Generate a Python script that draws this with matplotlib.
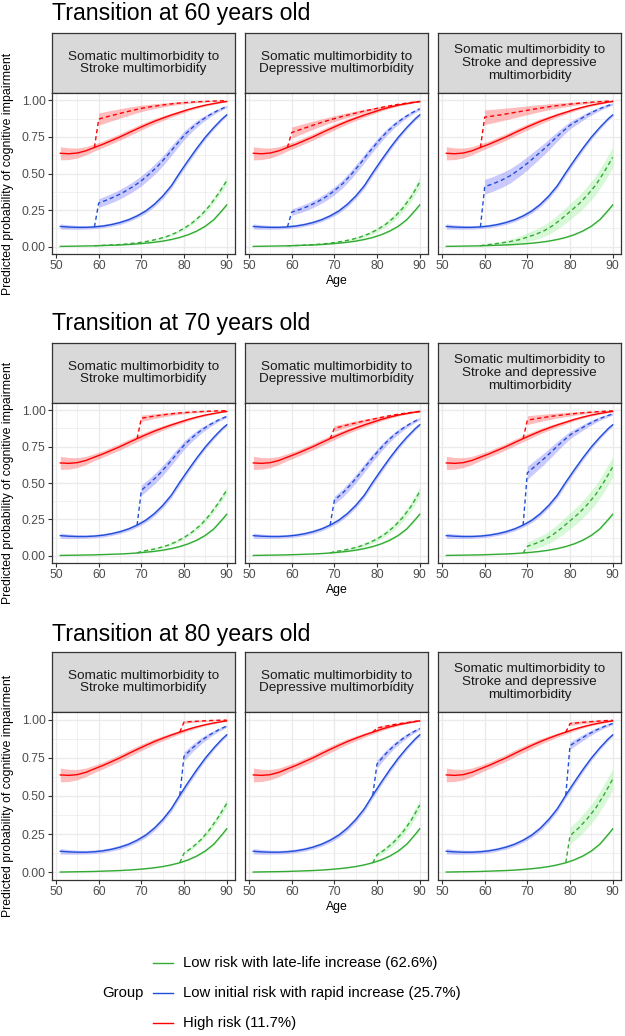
import matplotlib
matplotlib.use("Agg")
import matplotlib.pyplot as plt
from matplotlib.lines import Line2D

plt.rcParams['font.family'] = ['Liberation Sans', 'DejaVu Sans']

# ---- data ------------------------------------------------------------
transition_ages = [60, 70, 80]
facet_labels = ["Somatic multimorbidity to\nStroke multimorbidity",
                "Somatic multimorbidity to\nDepressive multimorbidity",
                "Somatic multimorbidity to\nStroke and depressive\nmultimorbidity"]
group_labels = ["Low risk with late-life increase (62.6%)",
                "Low initial risk with rapid increase (25.7%)",
                "High risk (11.7%)"]

# somatic multimorbidity (solid lines)
ages = [51, 53, 55, 57, 59, 61, 63, 65, 67, 69, 71, 73, 75, 77, 79, 81, 83, 85, 87, 89, 90]
base_red = [0.638, 0.635, 0.640, 0.655, 0.678, 0.700, 0.725, 0.750, 0.778, 0.805, 0.831,
            0.856, 0.878, 0.899, 0.918, 0.937, 0.953, 0.967, 0.978, 0.988, 0.992]
base_red_hw = [0.045, 0.040, 0.034, 0.028, 0.024, 0.022, 0.022, 0.022, 0.022, 0.021, 0.020,
               0.018, 0.016, 0.014, 0.012, 0.010, 0.008, 0.006, 0.005, 0.003, 0.003]
base_blue = [0.138, 0.134, 0.132, 0.132, 0.135, 0.141, 0.151, 0.165, 0.184, 0.210, 0.243,
             0.288, 0.345, 0.415, 0.505, 0.590, 0.672, 0.748, 0.815, 0.875, 0.900]
base_blue_hw = [0.018, 0.015, 0.013, 0.012, 0.012, 0.012, 0.012, 0.013, 0.013, 0.014, 0.015,
                0.016, 0.017, 0.018, 0.018, 0.018, 0.017, 0.015, 0.013, 0.011, 0.010]
base_green = [0.002, 0.003, 0.004, 0.005, 0.006, 0.008, 0.010, 0.012, 0.015, 0.019, 0.024,
              0.030, 0.038, 0.049, 0.063, 0.082, 0.107, 0.140, 0.185, 0.250, 0.285]
base_green_hw = [0.001, 0.001, 0.001, 0.001, 0.001, 0.001, 0.002, 0.002, 0.002, 0.002, 0.003,
                 0.003, 0.003, 0.004, 0.004, 0.005, 0.006, 0.007, 0.008, 0.009, 0.010]

# after the transition (dashed lines)
post_ages = [60, 62, 64, 66, 68, 70, 72, 74, 76, 78, 80, 82, 84, 86, 88, 90]

stroke_red = [0.872, 0.888, 0.903, 0.918, 0.932, 0.945, 0.955, 0.964, 0.972, 0.979, 0.984,
              0.988, 0.991, 0.994, 0.996, 0.997]
stroke_red_hw = [0.042, 0.038, 0.034, 0.030, 0.026, 0.022, 0.018, 0.015, 0.012, 0.010, 0.008,
                 0.006, 0.005, 0.004, 0.003, 0.002]
stroke_blue = [0.298, 0.320, 0.345, 0.375, 0.410, 0.450, 0.500, 0.555, 0.620, 0.690, 0.760,
               0.815, 0.862, 0.900, 0.932, 0.958]
stroke_blue_hw = [0.030, 0.031, 0.032, 0.033, 0.034, 0.035, 0.035, 0.035, 0.034, 0.032, 0.029,
                  0.025, 0.020, 0.015, 0.011, 0.008]
stroke_green = [0.008, 0.010, 0.013, 0.017, 0.023, 0.030, 0.040, 0.053, 0.070, 0.094, 0.125,
                0.165, 0.215, 0.280, 0.360, 0.450]
stroke_green_hw = [0.002, 0.002, 0.003, 0.003, 0.004, 0.005, 0.006, 0.007, 0.008, 0.009, 0.010,
                   0.012, 0.015, 0.018, 0.021, 0.025]

dep_red = [0.780, 0.800, 0.820, 0.840, 0.858, 0.875, 0.891, 0.906, 0.920, 0.933, 0.945,
           0.957, 0.968, 0.977, 0.985, 0.992]
dep_red_hw = [0.038, 0.034, 0.030, 0.026, 0.022, 0.020, 0.017, 0.015, 0.013, 0.011, 0.009,
              0.008, 0.006, 0.005, 0.004, 0.003]
dep_blue = [0.236, 0.255, 0.278, 0.306, 0.340, 0.382, 0.432, 0.495, 0.565, 0.640, 0.710,
            0.775, 0.830, 0.875, 0.912, 0.942]
dep_blue_hw = [0.022, 0.023, 0.024, 0.025, 0.026, 0.027, 0.028, 0.029, 0.029, 0.028, 0.026,
               0.023, 0.019, 0.015, 0.012, 0.009]
dep_green = [0.007, 0.009, 0.012, 0.016, 0.021, 0.028, 0.037, 0.049, 0.065, 0.087, 0.115,
             0.152, 0.200, 0.262, 0.340, 0.440]
dep_green_hw = [0.002, 0.002, 0.003, 0.004, 0.005, 0.006, 0.007, 0.009, 0.011, 0.013, 0.015,
                0.018, 0.022, 0.026, 0.030, 0.035]

both_red = [0.885, 0.893, 0.902, 0.912, 0.922, 0.932, 0.942, 0.951, 0.960, 0.967, 0.974,
            0.980, 0.985, 0.989, 0.993, 0.996]
both_red_hw = [0.050, 0.046, 0.042, 0.038, 0.034, 0.030, 0.026, 0.022, 0.019, 0.016, 0.013,
               0.010, 0.008, 0.006, 0.004, 0.003]
both_blue = [0.410, 0.430, 0.455, 0.485, 0.525, 0.570, 0.620, 0.670, 0.725, 0.780, 0.830,
             0.865, 0.900, 0.930, 0.955, 0.975]
both_blue_hw = [0.050, 0.050, 0.050, 0.049, 0.047, 0.045, 0.042, 0.039, 0.035, 0.030, 0.025,
                0.021, 0.018, 0.014, 0.011, 0.008]
both_green = [0.012, 0.018, 0.026, 0.035, 0.047, 0.065, 0.085, 0.110, 0.145, 0.190, 0.240,
              0.290, 0.350, 0.420, 0.510, 0.610]
both_green_hw = [0.005, 0.008, 0.012, 0.017, 0.023, 0.030, 0.035, 0.040, 0.045, 0.050, 0.055,
                 0.058, 0.062, 0.065, 0.068, 0.070]

# ---- styles --------------------------------------------------------------
line_col = {"green": "#33AA33", "blue": "#1F4FD6", "red": "#FF0000"}
fill_col = {"green": "#90EE90", "blue": "#5050FF", "red": "#FF4040"}
fill_alpha = {"green": 0.35, "blue": 0.3, "red": 0.35}

base = {"green": (base_green, base_green_hw),
        "blue": (base_blue, base_blue_hw),
        "red": (base_red, base_red_hw)}
post = [{"green": (stroke_green, stroke_green_hw), "blue": (stroke_blue, stroke_blue_hw),
         "red": (stroke_red, stroke_red_hw)},
        {"green": (dep_green, dep_green_hw), "blue": (dep_blue, dep_blue_hw),
         "red": (dep_red, dep_red_hw)},
        {"green": (both_green, both_green_hw), "blue": (both_blue, both_blue_hw),
         "red": (both_red, both_red_hw)}]

W, H = 625, 1036
fig = plt.figure(figsize=(W / 100, H / 100), dpi=100)


def rect(x0, y0, x1, y1):
    # pixel box (top-left origin) -> figure fraction
    return [x0 / W, 1 - y1 / H, (x1 - x0) / W, (y1 - y0) / H]


panel_x = [(52, 235), (245, 428), (438, 621)]
rows = [  # title baseline, strip top, panel top, panel bottom
    (20, 33, 93, 254),
    (330, 343, 403, 563),
    (641, 652, 712, 880),
]
border = "#333333"
grid = "#EBEBEB"
tick_grey = "#4D4D4D"

for r, T in enumerate(transition_ages):
    t_y, s_top, p_top, p_bot = rows[r]
    fig.text(52 / W, 1 - t_y / H, "Transition at %d years old" % T,
             fontsize=16.7, va="baseline", ha="left")
    fig.text(8 / W, 1 - (p_top + p_bot) / 2 / H,
             "Predicted probability of cognitive impairment",
             rotation=90, fontsize=8.8, va="center", ha="center")
    for c in range(3):
        x0, x1 = panel_x[c]
        # strip
        sax = fig.add_axes(rect(x0, s_top, x1, p_top))
        sax.set_facecolor("#D9D9D9")
        sax.set_xticks([])
        sax.set_yticks([])
        for sp in sax.spines.values():
            sp.set_color(border)
            sp.set_linewidth(0.9)
        sax.text(0.5, 0.5, facet_labels[c], ha="center", va="center",
                 fontsize=9.7, color="#1A1A1A", transform=sax.transAxes,
                 linespacing=1.1)

        ax = fig.add_axes(rect(x0, p_top, x1, p_bot))
        ax.set_xlim(49.05, 91.95)
        ax.set_ylim(-0.05, 1.05)
        ax.set_xticks([50, 60, 70, 80, 90])
        ax.set_xticks([55, 65, 75, 85], minor=True)
        ax.set_yticks([0, 0.25, 0.5, 0.75, 1.0])
        ax.set_yticks([0.125, 0.375, 0.625, 0.875], minor=True)
        ax.grid(True, which="major", color=grid, lw=1.0)
        ax.grid(True, which="minor", color=grid, lw=0.5)
        ax.set_axisbelow(True)
        for sp in ax.spines.values():
            sp.set_color(border)
            sp.set_linewidth(0.9)
        ax.tick_params(which="major", length=3, width=0.8, color=border,
                       labelsize=8.8, labelcolor=tick_grey, pad=1.5)
        ax.tick_params(which="minor", length=0)
        if c == 0:
            ax.set_yticklabels(["0.00", "0.25", "0.50", "0.75", "1.00"])
        else:
            ax.tick_params(axis="y", which="major", left=False, labelleft=False)
        if c == 1:
            ax.set_xlabel("Age", fontsize=8.8, labelpad=2)

        i0 = post_ages.index(T)
        prev = ages.index(T - 1)
        for g in ["green", "blue", "red"]:
            yb, hb = base[g]
            yp, hp = post[c][g]
            lo = [v - h for v, h in zip(yb, hb)]
            hi = [v + h for v, h in zip(yb, hb)]
            ax.fill_between(ages, lo, hi, color=fill_col[g], alpha=fill_alpha[g], lw=0)
            xs = post_ages[i0:]
            lo = [v - h for v, h in zip(yp[i0:], hp[i0:])]
            hi = [v + h for v, h in zip(yp[i0:], hp[i0:])]
            ax.fill_between(xs, lo, hi, color=fill_col[g], alpha=fill_alpha[g], lw=0)
        for g in ["green", "blue", "red"]:
            yb, hb = base[g]
            yp, hp = post[c][g]
            ax.plot(ages, yb, color=line_col[g], lw=1.0)
            ax.plot([T - 1] + post_ages[i0:], [yb[prev]] + yp[i0:],
                    color=line_col[g], lw=1.0, ls=(0, (3, 2.2)))

# ---- legend --------------------------------------------------------------
fig.text(102 / W, 1 - 993 / H, "Group", fontsize=10.7, va="center", ha="left")
for k, g in enumerate(["green", "blue", "red"]):
    yy = 1 - (963 + 30 * k) / H
    fig.add_artist(Line2D([153 / W, 173 / W], [yy, yy], color=line_col[g], lw=1.0))
    fig.text(183 / W, yy, group_labels[k], fontsize=10.7, va="center", ha="left")

fig.savefig("out.png", dpi=100, facecolor="white")
